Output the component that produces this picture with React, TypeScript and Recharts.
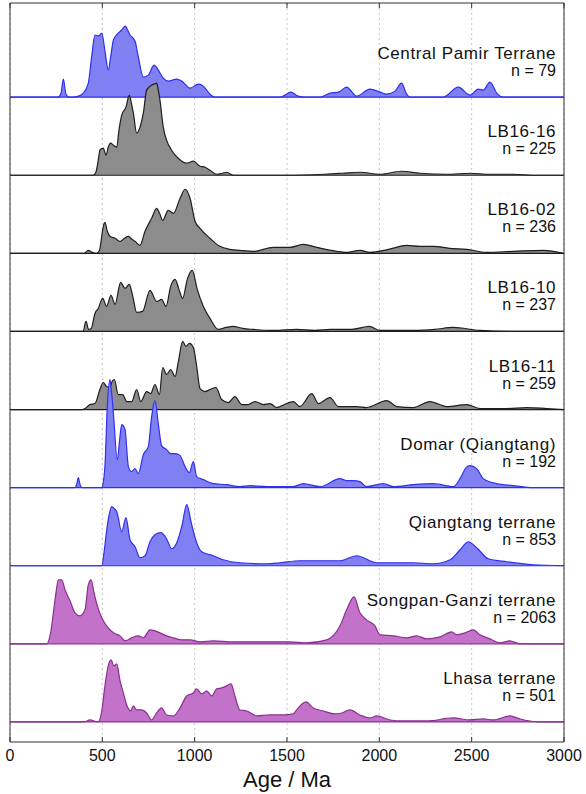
import React from 'react';
import { ComposedChart, Area, XAxis, YAxis, CartesianGrid, ReferenceLine } from 'recharts';

// Age (Ma) vs. scaled detrital zircon density for each sample / terrane.
type Pt = [number, number];

const centralPamir: Pt[] = [
  [0, 0], [260, 0], [275, 3], [289, 18], [303, 3], [318, 0], [342, 0], [370, 1], [397, 4], [424, 14],
  [442, 40], [460, 62], [478, 61], [497, 64], [515, 45], [532, 27], [545, 40], [560, 57], [586, 64],
  [605, 67], [623, 71], [650, 62], [677, 56], [694, 41], [722, 20], [749, 22], [780, 32], [803, 27],
  [830, 19], [857, 16], [903, 18], [930, 16], [975, 9], [1020, 13], [1047, 11], [1083, 3], [1110, 0],
  [1462, 0], [1490, 2], [1520, 5], [1560, 1], [1600, 0], [1680, 0], [1733, 4], [1780, 5], [1823, 10],
  [1877, 1], [1949, 8], [2004, 5], [2040, 3], [2085, 6], [2121, 14], [2145, 4], [2166, 0], [2345, 0],
  [2428, 10], [2491, 2], [2536, 8], [2563, 7], [2599, 15], [2640, 3], [2671, 0], [3000, 0],
];

const lb1616: Pt[] = [
  [0, 0], [450, 0], [465, 3], [478, 15], [487, 25], [505, 27], [520, 20], [532, 28], [545, 32], [560, 30],
  [578, 28], [590, 45], [605, 60], [628, 68], [646, 80], [657, 72], [668, 62], [686, 42], [704, 48],
  [722, 62], [740, 85], [767, 90], [780, 91], [794, 92], [803, 85], [812, 75], [830, 48], [848, 35],
  [875, 25], [911, 17], [957, 12], [993, 14], [1029, 9], [1056, 8], [1083, 5], [1119, 1], [1150, 2],
  [1173, 3], [1209, 0], [1500, 0], [1700, 1], [1800, 2], [1895, 3], [2004, 1], [2121, 4], [2220, 2],
  [2365, 1], [2491, 2], [2600, 1], [2725, 1], [2850, 0], [3000, 0],
];

const lb1602: Pt[] = [
  [0, 0], [400, 0], [424, 3], [445, 1], [469, 0], [485, 3], [493, 12], [503, 25], [514, 31], [527, 22],
  [541, 17], [569, 15], [596, 12], [620, 15], [641, 17], [660, 14], [677, 12], [704, 8], [731, 22],
  [767, 35], [794, 45], [810, 40], [827, 33], [857, 43], [885, 40], [921, 55], [948, 64], [975, 55],
  [1002, 32], [1029, 25], [1083, 15], [1137, 7], [1191, 4], [1245, 3], [1318, 2], [1426, 6], [1516, 6],
  [1588, 9], [1661, 6], [1740, 3], [1823, 1], [1895, 3], [1949, 1], [2050, 4], [2148, 8], [2220, 7],
  [2293, 7], [2380, 5], [2473, 4], [2581, 1], [2725, 2], [2888, 3], [3000, 0],
];

const lb1610: Pt[] = [
  [0, 0], [395, 0], [412, 10], [425, 2], [440, 3], [460, 18], [478, 23], [502, 33], [523, 25], [547, 36],
  [569, 27], [599, 49], [623, 43], [646, 47], [665, 35], [686, 19], [718, 20], [758, 41], [794, 30],
  [821, 32], [845, 25], [870, 45], [894, 52], [915, 42], [935, 33], [960, 52], [987, 61], [1014, 42],
  [1047, 25], [1083, 13], [1128, 2], [1170, 4], [1209, 5], [1260, 3], [1318, 2], [1426, 1], [1553, 2],
  [1650, 1], [1733, 2], [1850, 2], [1946, 5], [2004, 1], [2184, 1], [2300, 2], [2400, 4], [2545, 1],
  [2725, 0], [3000, 0],
];

const lb1611: Pt[] = [
  [0, 0], [390, 0], [406, 1], [433, 5], [460, 6], [487, 20], [505, 27], [523, 23], [541, 22], [553, 28],
  [565, 30], [586, 15], [610, 15], [632, 8], [659, 8], [686, 20], [708, 8], [740, 18], [762, 16],
  [785, 25], [809, 15], [827, 42], [848, 35], [870, 40], [894, 33], [911, 47], [935, 68], [953, 63],
  [971, 66], [993, 62], [1011, 43], [1029, 21], [1056, 18], [1083, 20], [1116, 22], [1146, 10],
  [1182, 7], [1218, 13], [1255, 5], [1290, 5], [1327, 8], [1372, 5], [1408, 6], [1444, 2], [1498, 6],
  [1534, 8], [1570, 3], [1634, 16], [1670, 6], [1733, 12], [1778, 3], [1877, 3], [1931, 2], [2040, 9],
  [2094, 3], [2184, 2], [2274, 8], [2365, 3], [2473, 5], [2545, 1], [2690, 1], [2798, 2], [2907, 1],
  [3000, 0],
];

const domar: Pt[] = [
  [0, 0], [352, 0], [362, 4], [370, 10], [378, 4], [388, 0], [497, 0], [505, 5], [514, 21], [527, 81],
  [541, 108], [550, 95], [560, 74], [581, 28], [595, 50], [605, 63], [623, 58], [641, 21], [659, 16],
  [677, 19], [695, 14], [722, 33], [749, 41], [767, 71], [785, 87], [803, 64], [821, 42], [848, 38],
  [870, 34], [894, 34], [921, 32], [948, 21], [971, 15], [993, 26], [1011, 11], [1047, 8], [1101, 4],
  [1173, 3], [1245, 1], [1300, 2], [1390, 1], [1534, 1], [1588, 4], [1679, 1], [1787, 9], [1823, 7],
  [1860, 7], [1895, 6], [1931, 1], [2022, 4], [2076, 1], [2184, 3], [2293, 4], [2401, 1], [2437, 9],
  [2470, 20], [2491, 22], [2527, 19], [2563, 9], [2635, 4], [2725, 2], [2834, 0], [3000, 0],
];

const qiangtang: Pt[] = [
  [0, 0], [497, 0], [509, 13], [520, 30], [532, 46], [551, 59], [565, 57], [578, 54], [605, 34],
  [628, 48], [650, 26], [677, 19], [704, 8], [731, 10], [758, 24], [785, 31], [816, 33], [845, 28],
  [876, 17], [903, 23], [930, 39], [957, 61], [984, 41], [1011, 23], [1038, 14], [1101, 10], [1155, 6],
  [1245, 3], [1390, 2], [1462, 3], [1570, 5], [1642, 5], [1787, 5], [1877, 10], [1986, 3], [2184, 3],
  [2293, 2], [2383, 6], [2437, 16], [2482, 24], [2527, 18], [2590, 7], [2690, 4], [2834, 1], [3000, 0],
];

const songpanGanzi: Pt[] = [
  [0, 0], [199, 0], [220, 11], [244, 44], [262, 64], [280, 64], [298, 54], [325, 43], [352, 31],
  [379, 28], [406, 34], [424, 59], [439, 64], [455, 51], [473, 38], [497, 26], [523, 18], [560, 11],
  [596, 8], [623, 3], [659, 6], [695, 8], [722, 6], [758, 14], [785, 13], [812, 11], [848, 8], [885, 6],
  [930, 4], [975, 4], [1029, 2], [1101, 3], [1209, 2], [1318, 2], [1426, 2], [1516, 2], [1606, 1],
  [1715, 4], [1787, 18], [1823, 34], [1863, 47], [1895, 31], [1931, 24], [1976, 18], [2004, 9],
  [2076, 8], [2148, 6], [2202, 8], [2256, 5], [2329, 7], [2392, 12], [2419, 9], [2464, 11], [2509, 14],
  [2545, 9], [2599, 5], [2653, 1], [2707, 3], [2762, 0], [3000, 0],
];

const lhasa: Pt[] = [
  [0, 0], [400, 0], [433, 2], [478, 0], [497, 11], [514, 36], [532, 56], [547, 62], [563, 56], [578, 58],
  [596, 41], [614, 29], [632, 17], [654, 11], [668, 16], [686, 12], [713, 12], [740, 9], [767, 2],
  [794, 9], [821, 14], [848, 7], [885, 6], [921, 14], [957, 26], [993, 29], [1011, 33], [1038, 28],
  [1065, 31], [1092, 26], [1119, 33], [1146, 34], [1173, 36], [1197, 38], [1218, 26], [1245, 12],
  [1282, 11], [1336, 6], [1408, 7], [1480, 7], [1534, 8], [1552, 12], [1603, 20], [1642, 14],
  [1697, 11], [1760, 8], [1796, 9], [1841, 12], [1895, 7], [1949, 4], [1986, 6], [2058, 2], [2130, 1],
  [2256, 1], [2401, 4], [2491, 2], [2563, 3], [2617, 2], [2707, 6], [2762, 3], [2816, 1], [2870, 0],
  [3000, 0],
];

const panelNames = [
  'Central Pamir Terrane', 'LB16-16', 'LB16-02', 'LB16-10', 'LB16-11',
  'Domar (Qiangtang)', 'Qiangtang terrane', 'Songpan-Ganzi terrane', 'Lhasa terrane',
];
const panelCounts = [79, 225, 236, 237, 259, 192, 853, 2063, 501];
const panelSeries = [centralPamir, lb1616, lb1602, lb1610, lb1611, domar, qiangtang, songpanGanzi, lhasa];
const panelGroups = ['blue', 'gray', 'gray', 'gray', 'gray', 'blue', 'blue', 'purple', 'purple'];

const ageTicks = [0, 500, 1000, 1500, 2000, 2500, 3000];

const palette: Record<string, { fill: string; stroke: string }> = {
  blue: { fill: '#8080f2', stroke: '#2f2ff0' },
  gray: { fill: '#8c8c8c', stroke: '#1e1e1e' },
  purple: { fill: '#c272c8', stroke: '#8c2f92' },
};

const PITCH = 78; // vertical spacing between ridgeline baselines
const FONT = '"Liberation Sans", Arial, Helvetica, sans-serif';
const FRAME = '#333';

const panels = panelNames.map((name, i) => {
  const offset = (panelNames.length - 1 - i) * PITCH;
  const key = `band${i}`;
  return {
    name,
    n: panelCounts[i],
    offset,
    key,
    colors: palette[panelGroups[i]],
    data: panelSeries[i].map(([age, d]) => ({ age, [key]: [offset, offset + d] })),
  };
});

const BottomTick = (props: any) => {
  const { x, y, payload } = props;
  return (
    <g>
      <line x1={x} x2={x} y1={y - 5} y2={y} stroke={FRAME} strokeWidth={1} />
      <text x={x} y={y + 19} textAnchor="middle" fontSize={16} fill="#111" fontFamily={FONT}>
        {payload.value}
      </text>
    </g>
  );
};

const TopTick = (props: any) => {
  const { x, y } = props;
  return <line x1={x} x2={x} y1={y} y2={y + 5} stroke={FRAME} strokeWidth={1} />;
};

const AxisTitle = (props: any) => {
  const vb = props.viewBox || {};
  return (
    <text x={vb.x + vb.width / 2} y={vb.y + 45} textAnchor="middle" fontSize={22} fill="#111" fontFamily={FONT}>
      Age / Ma
    </text>
  );
};

const PanelLabel = (props: any) => {
  const vb = props.viewBox || {};
  const right = vb.x + vb.width - 8;
  return (
    <g fontFamily={FONT} fill="#111" textAnchor="end">
      <text x={right} y={vb.y - 38} fontSize={17} letterSpacing={0.6}>
        {props.title}
      </text>
      <text x={right} y={vb.y - 21} fontSize={16}>
        {`n = ${props.count}`}
      </text>
    </g>
  );
};

export default function App() {
  return (
    <div style={{ position: 'absolute', left: 0, top: 0, width: 586, height: 794, background: '#fff' }}>
      <ComposedChart width={586} height={794} margin={{ top: 2, right: 21, bottom: 0, left: 9 }}>
        <CartesianGrid vertical horizontal={false} stroke="#c4c4c4" strokeDasharray="2 3" xAxisId="bottom" yAxisId="left" />
        <XAxis
          xAxisId="bottom"
          dataKey="age"
          type="number"
          domain={[0, 3000]}
          ticks={ageTicks}
          allowDataOverflow
          height={52}
          tickSize={0}
          tickMargin={0}
          tickLine={false}
          tick={<BottomTick />}
          axisLine={{ stroke: FRAME, strokeWidth: 1 }}
          interval={0}
          label={<AxisTitle />}
        />
        <XAxis
          xAxisId="top"
          orientation="top"
          dataKey="age"
          type="number"
          domain={[0, 3000]}
          ticks={ageTicks}
          allowDataOverflow
          height={1}
          tickSize={0}
          tickMargin={0}
          tickLine={false}
          tick={<TopTick />}
          axisLine={{ stroke: FRAME, strokeWidth: 1 }}
          interval={0}
        />
        <YAxis
          yAxisId="left"
          type="number"
          domain={[-20, 8 * PITCH + 94]}
          allowDataOverflow
          width={1}
          tick={false}
          tickLine={false}
          axisLine={{ stroke: FRAME, strokeWidth: 1 }}
        />
        <YAxis
          yAxisId="right"
          orientation="right"
          type="number"
          domain={[0, 1]}
          width={1}
          tick={false}
          tickLine={false}
          axisLine={{ stroke: FRAME, strokeWidth: 1 }}
        />
        {panels.map((p) => (
          <Area
            key={p.key}
            xAxisId="bottom"
            yAxisId="left"
            data={p.data}
            dataKey={p.key}
            type="monotone"
            fill={p.colors.fill}
            fillOpacity={1}
            stroke={p.colors.stroke}
            strokeWidth={1.2}
            dot={false}
            activeDot={false}
            isAnimationActive={false}
          />
        ))}
        {panels.map((p) => (
          <ReferenceLine
            key={`lbl-${p.key}`}
            xAxisId="bottom"
            yAxisId="left"
            y={p.offset}
            stroke="none"
            label={<PanelLabel title={p.name} count={p.n} />}
          />
        ))}
      </ComposedChart>
    </div>
  );
}
